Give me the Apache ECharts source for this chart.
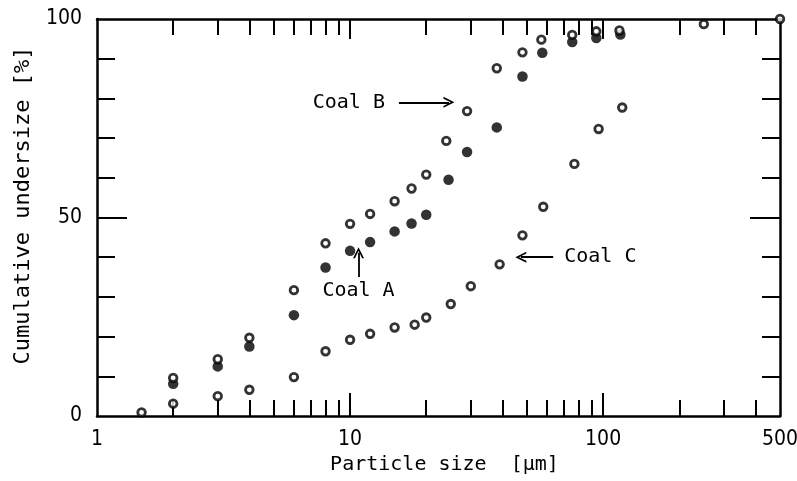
<!DOCTYPE html>
<html>
<head>
<meta charset="utf-8">
<script src="https://cdn.jsdelivr.net/npm/echarts@6/dist/echarts.min.js"></script>
<style>
html, body { margin: 0; padding: 0; background: #fff; }
#chart { width: 797px; height: 481px; }
</style>
</head>
<body>
<div id="chart"></div>
<script>
// Cumulative undersize (%) against particle size (µm) for three coals.
const sizesA = [2, 3, 4, 6, 8, 10, 12, 15, 17.5, 20, 24.5, 29, 38, 48, 57.5, 75.5, 94, 117];
const coalA  = [8.1, 12.5, 17.5, 25.4, 37.4, 41.6, 43.8, 46.5, 48.5, 50.7, 59.5, 66.5, 72.7, 85.5, 91.5, 94.2, 95.2, 96.1];

const sizesB = [2, 3, 4, 6, 8, 10, 12, 15, 17.5, 20, 24, 29, 38, 48, 57, 75.5, 94, 116, 250, 500];
const coalB  = [9.6, 14.3, 19.7, 31.7, 43.5, 48.4, 50.9, 54.1, 57.3, 60.8, 69.3, 76.8, 87.6, 91.6, 94.8, 96.0, 96.9, 97.1, 98.7, 100];

const sizesC = [1.5, 2, 3, 4, 6, 8, 10, 12, 15, 18, 20, 25, 30, 39, 48, 58, 77, 96, 119];
const coalC  = [0.9, 3.1, 5.0, 6.6, 9.8, 16.3, 19.2, 20.7, 22.3, 23.0, 24.8, 28.2, 32.7, 38.2, 45.5, 52.7, 63.5, 72.3, 77.7];

// Log-decade ticks of the size axis
const xMajorTicks = [10, 100];
const xMinorTicks = [2, 3, 4, 5, 6, 7, 8, 9, 20, 30, 40, 50, 60, 70, 80, 90, 200, 300, 400];
const xTickLabels = [1, 10, 100, 500];
const xMin = 1, xMax = 500;

// Percentage axis ticks
const yMinorTicks = [10, 20, 30, 40, 60, 70, 80, 90];
const yMajorTicks = [50];
const yTickLabels = [0, 50, 100];

const lg = Math.log10;
const toPoints = (sizes, vals) => sizes.map((s, i) => [lg(s), vals[i]]);

const MONO = "'DejaVu Sans Mono', 'Liberation Mono', monospace";
const NUM = "'DejaVu Sans Condensed', 'Liberation Sans Narrow', 'DejaVu Sans', sans-serif";
const INK = '#000';
const tickStyle = { color: INK, width: 2 };

function xAxisDef(position, ticks, len, withLine, extra) {
  return Object.assign({
    type: 'value', position: position, min: lg(xMin), max: lg(xMax),
    axisLine: { show: withLine, onZero: false, lineStyle: { color: INK, width: 2.5 } },
    axisTick: { show: true, inside: true, length: len, customValues: ticks.map(lg), lineStyle: tickStyle },
    axisLabel: { show: false },
    splitLine: { show: false }
  }, extra || {});
}
function yAxisDef(position, ticks, len, withLine, extra) {
  return Object.assign({
    type: 'value', position: position, min: 0, max: 100,
    axisLine: { show: withLine, onZero: false, lineStyle: { color: INK, width: 2.5 } },
    axisTick: { show: true, inside: true, length: len, customValues: ticks, lineStyle: tickStyle },
    axisLabel: { show: false },
    splitLine: { show: false }
  }, extra || {});
}

// Open chevron arrowhead pointing along the line
const arrowHead = 'path://M0,10 L5,0 L10,10 L8.3,10 L5,3.4 L1.7,10 Z';

const chart = echarts.init(document.getElementById('chart'), null, { renderer: 'canvas' });
chart.setOption({
  animation: false,
  backgroundColor: '#fff',
  grid: { left: 97, right: 17, top: 19, bottom: 65, containLabel: false, outerBoundsMode: 'none' },
  xAxis: [
    xAxisDef('bottom', xMinorTicks, 16, true),
    xAxisDef('bottom', xMajorTicks, 23, false, {
      axisLabel: {
        show: true, customValues: xTickLabels.map(lg), margin: 13,
        formatter: v => String(Math.round(Math.pow(10, v))),
        fontFamily: NUM, fontSize: 21, color: INK
      },
      name: 'Particle size  [\u03bcm]', nameLocation: 'middle', nameGap: 37,
      nameTextStyle: { fontFamily: MONO, fontSize: 20, color: INK, padding: [0, 0, 0, 12] }
    }),
    xAxisDef('top', xMinorTicks, 16, true),
    xAxisDef('top', xMajorTicks, 20, false)
  ],
  yAxis: [
    yAxisDef('left', yMinorTicks, 18, true, {
      axisLabel: {
        show: true, customValues: yTickLabels, margin: 15,
        fontFamily: NUM, fontSize: 21, color: INK
      },
      name: 'Cumulative undersize [%]', nameLocation: 'middle', nameGap: 63, nameRotate: 90,
      nameTextStyle: { fontFamily: MONO, fontSize: 22, color: INK, padding: [0, 0, 0, 24] }
    }),
    yAxisDef('left', yMajorTicks, 30, false),
    yAxisDef('right', yMinorTicks, 18, true),
    yAxisDef('right', yMajorTicks, 30, false)
  ],
  series: [
    {
      name: 'Coal A', type: 'scatter', xAxisIndex: 0, yAxisIndex: 0,
      data: toPoints(sizesA, coalA), symbol: 'circle', symbolSize: 10.5,
      itemStyle: { color: INK }, emphasis: { disabled: true }, silent: true
    },
    {
      name: 'Coal B', type: 'scatter', xAxisIndex: 0, yAxisIndex: 0,
      data: toPoints(sizesB, coalB), symbol: 'circle', symbolSize: 7.6,
      itemStyle: { color: '#fff', borderColor: INK, borderWidth: 2.8 },
      emphasis: { disabled: true }, silent: true
    },
    {
      name: 'Coal C', type: 'scatter', xAxisIndex: 0, yAxisIndex: 0,
      data: toPoints(sizesC, coalC), symbol: 'circle', symbolSize: 7.6,
      itemStyle: { color: '#fff', borderColor: INK, borderWidth: 2.8 },
      emphasis: { disabled: true }, silent: true,
      markLine: {
        silent: true, animation: false,
        symbol: ['none', arrowHead], symbolSize: 11,
        lineStyle: { color: INK, width: 1.8, type: 'solid' },
        label: { show: true, fontFamily: MONO, fontSize: 20, color: INK },
        emphasis: { disabled: true },
        data: [
          [{ coord: [lg(15.6), 79], label: { formatter: 'Coal B', position: 'start', distance: 14 } },
           { coord: [lg(24.6), 79] }],
          [{ coord: [lg(10.8), 35], label: { formatter: 'Coal A', position: 'start', distance: 4 } },
           { coord: [lg(10.8), 41.1] }],
          [{ coord: [lg(63.5), 40], label: { formatter: 'Coal C', position: 'start', distance: 11 } },
           { coord: [lg(47.3), 40] }]
        ]
      }
    }
  ]
});
</script>
</body>
</html>
